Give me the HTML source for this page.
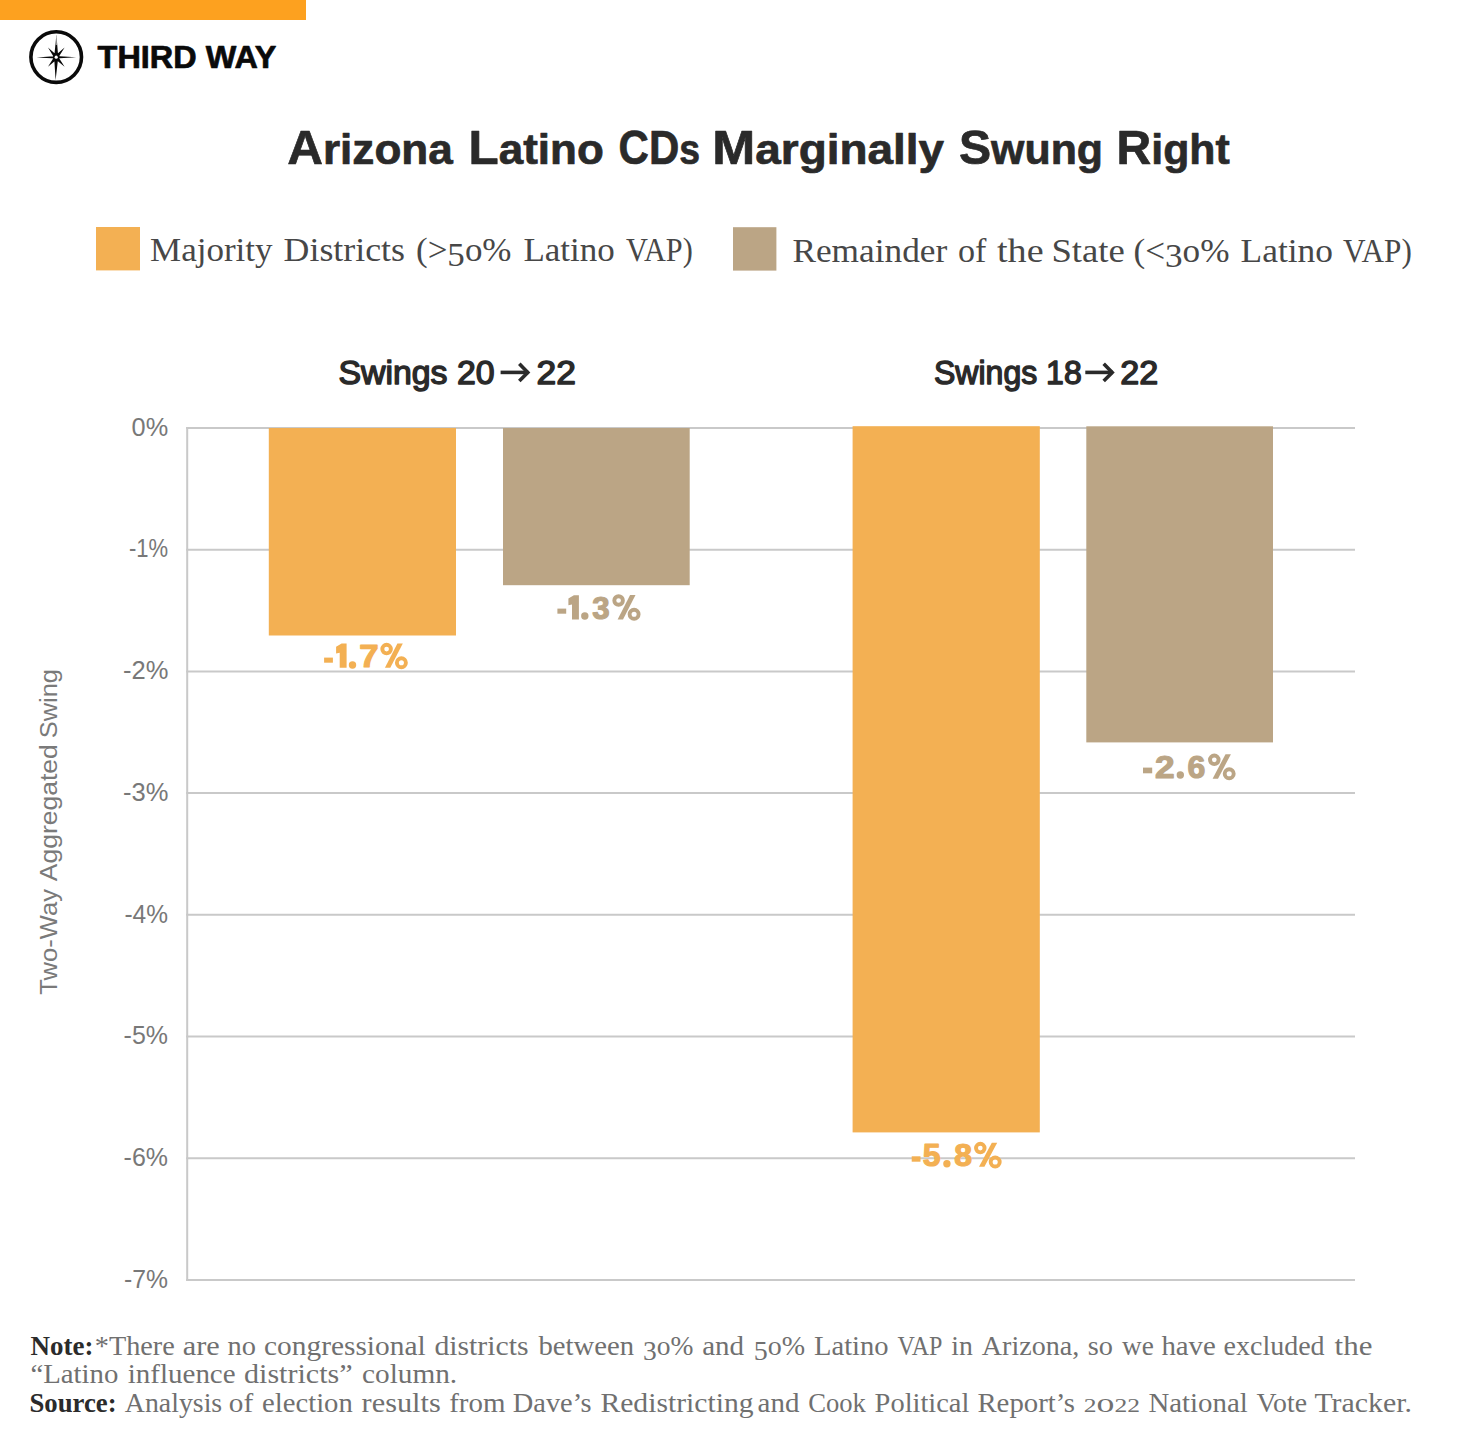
<!DOCTYPE html>
<html><head><meta charset="utf-8">
<style>
html,body{margin:0;padding:0;background:#fff;width:1480px;height:1448px;overflow:hidden}
svg{display:block}
.sans{font-family:"Liberation Sans",sans-serif}
.serif{font-family:"Liberation Serif",serif}
</style></head>
<body>
<svg width="1480" height="1448" viewBox="0 0 1480 1448">
<rect x="0" y="0" width="1480" height="1448" fill="#fff"/>
<rect id="topbar" x="0" y="0" width="306" height="20" fill="#FDA11F"/>
<g id="logo"><circle cx="56.2" cy="57.1" r="25.3" fill="none" stroke="#0a0a0a" stroke-width="3.6"/>
<path fill="#0a0a0a" d="M56.40 34.40L58.29 57.92L54.09 57.88ZM55.60 80.20L54.12 56.65L58.31 56.76ZM36.50 57.40L56.79 56.00L56.81 58.60ZM76.10 57.30L55.60 58.60L55.60 56.00ZM48.00 47.40L58.20 56.42L54.97 59.10ZM64.60 47.40L57.41 59.12L54.21 56.40ZM48.00 66.70L55.01 55.47L58.18 58.23ZM64.60 66.70L54.23 58.25L57.37 55.45Z"/>
<circle cx="56.2" cy="57.2" r="3.2" fill="#0a0a0a"/><circle cx="56.2" cy="57.2" r="1.6" fill="#fff"/><path d="M56.15 36.5L56.3 45" stroke="#fff" stroke-width="0.7"/></g>
<text id="third" class="sans" x="97.60" y="68.10" font-size="31.40" fill="#0a0a0a" font-weight="700" textLength="178.90" lengthAdjust="spacingAndGlyphs" stroke="#0a0a0a" stroke-width="0.70" stroke-linejoin="round" >THIRD WAY</text>
<text id="tw0" class="sans" x="287.20" y="164.40" font-size="43.00" fill="#2a2a2a" font-weight="700" textLength="165.60" lengthAdjust="spacingAndGlyphs" stroke="#2a2a2a" stroke-width="0.70" stroke-linejoin="round" ><tspan font-size="48.30">A</tspan>rizona</text>
<text id="tw1" class="sans" x="468.60" y="164.40" font-size="43.00" fill="#2a2a2a" font-weight="700" textLength="135.20" lengthAdjust="spacingAndGlyphs" stroke="#2a2a2a" stroke-width="0.70" stroke-linejoin="round" ><tspan font-size="48.30">L</tspan>atino</text>
<text id="tw2" class="sans" x="618.60" y="164.40" font-size="43.00" fill="#2a2a2a" font-weight="700" textLength="81.40" lengthAdjust="spacingAndGlyphs" stroke="#2a2a2a" stroke-width="0.70" stroke-linejoin="round" ><tspan font-size="48.30">C</tspan><tspan font-size="48.30">D</tspan>s</text>
<text id="tw3" class="sans" x="712.20" y="164.40" font-size="43.00" fill="#2a2a2a" font-weight="700" textLength="232.00" lengthAdjust="spacingAndGlyphs" stroke="#2a2a2a" stroke-width="0.70" stroke-linejoin="round" ><tspan font-size="48.30">M</tspan>arginally</text>
<text id="tw4" class="sans" x="959.00" y="164.40" font-size="43.00" fill="#2a2a2a" font-weight="700" textLength="144.00" lengthAdjust="spacingAndGlyphs" stroke="#2a2a2a" stroke-width="0.70" stroke-linejoin="round" ><tspan font-size="48.30">S</tspan>wung</text>
<text id="tw5" class="sans" x="1116.60" y="164.40" font-size="43.00" fill="#2a2a2a" font-weight="700" textLength="113.20" lengthAdjust="spacingAndGlyphs" stroke="#2a2a2a" stroke-width="0.70" stroke-linejoin="round" ><tspan font-size="48.30">R</tspan>ight</text>
<rect x="96" y="227" width="44" height="43.4" fill="#F3B053"/>
<text id="leg1_0" class="serif" x="150.00" y="260.80" font-size="34.00" fill="#474747" textLength="122.60" lengthAdjust="spacingAndGlyphs" >Majority</text>
<text id="leg1_1" class="serif" x="283.60" y="260.80" font-size="34.00" fill="#474747" textLength="121.40" lengthAdjust="spacingAndGlyphs" >Districts</text>
<text id="leg1_2" class="serif" x="416.00" y="260.80" font-size="34.00" fill="#474747" textLength="95.50" lengthAdjust="spacingAndGlyphs" ><tspan font-size="34.00" dy="-0.00">(</tspan><tspan font-size="34.00" dy="0.00">&gt;</tspan><tspan font-size="34.00" dy="5.00">5</tspan><tspan dy="-5.00">o</tspan><tspan font-size="34.00" dy="0.00">%</tspan></text>
<text id="leg1_3" class="serif" x="523.40" y="260.80" font-size="34.00" fill="#474747" textLength="91.40" lengthAdjust="spacingAndGlyphs" >Latino</text>
<text id="leg1_4" class="serif" x="626.00" y="260.80" font-size="34.00" fill="#474747" textLength="66.80" lengthAdjust="spacingAndGlyphs" >VAP)</text>
<rect x="733" y="227.2" width="43.4" height="43.4" fill="#BBA585"/>
<text id="leg2_0" class="serif" x="792.40" y="261.60" font-size="34.00" fill="#474747" textLength="154.80" lengthAdjust="spacingAndGlyphs" >Remainder</text>
<text id="leg2_1" class="serif" x="958.00" y="261.60" font-size="34.00" fill="#474747" textLength="28.40" lengthAdjust="spacingAndGlyphs" >of</text>
<text id="leg2_2" class="serif" x="997.00" y="261.60" font-size="34.00" fill="#474747" textLength="46.60" lengthAdjust="spacingAndGlyphs" >the</text>
<text id="leg2_3" class="serif" x="1051.40" y="261.60" font-size="34.00" fill="#474747" textLength="73.40" lengthAdjust="spacingAndGlyphs" >State</text>
<text id="leg2_4" class="serif" x="1133.50" y="261.60" font-size="34.00" fill="#474747" textLength="96.00" lengthAdjust="spacingAndGlyphs" ><tspan font-size="34.00" dy="-0.00">(</tspan><tspan font-size="34.00" dy="0.00">&lt;</tspan><tspan font-size="34.00" dy="5.00">3</tspan><tspan dy="-5.00">o</tspan><tspan font-size="34.00" dy="0.00">%</tspan></text>
<text id="leg2_5" class="serif" x="1240.60" y="261.60" font-size="34.00" fill="#474747" textLength="92.40" lengthAdjust="spacingAndGlyphs" >Latino</text>
<text id="leg2_6" class="serif" x="1343.00" y="261.60" font-size="34.00" fill="#474747" textLength="68.80" lengthAdjust="spacingAndGlyphs" >VAP)</text>
<text id="h1a" class="sans" x="338.40" y="384.30" font-size="33.00" fill="#2a2a2a" textLength="156.20" lengthAdjust="spacingAndGlyphs" stroke="#2a2a2a" stroke-width="1.40" stroke-linejoin="round" >Swings 20</text>
<text id="h1b" class="sans" x="536.60" y="384.30" font-size="33.00" fill="#2a2a2a" textLength="39.40" lengthAdjust="spacingAndGlyphs" stroke="#2a2a2a" stroke-width="1.40" stroke-linejoin="round" >22</text>
<text id="h2a" class="sans" x="934.00" y="384.30" font-size="33.00" fill="#2a2a2a" textLength="147.70" lengthAdjust="spacingAndGlyphs" stroke="#2a2a2a" stroke-width="1.40" stroke-linejoin="round" >Swings 18</text>
<text id="h2b" class="sans" x="1120.20" y="384.30" font-size="33.00" fill="#2a2a2a" textLength="38.00" lengthAdjust="spacingAndGlyphs" stroke="#2a2a2a" stroke-width="1.40" stroke-linejoin="round" >22</text>
<g class="arrow" fill="none" stroke="#2a2a2a" stroke-width="3.6"><path d="M500.6 372.4H528.3"/><path d="M519.3 363.8L527.8 372.4L519.3 381.0" stroke-linejoin="miter"/></g>
<g class="arrow" fill="none" stroke="#2a2a2a" stroke-width="3.6"><path d="M1085.3 372.4H1112.7"/><path d="M1103.7 363.8L1112.2 372.4L1103.7 381.0" stroke-linejoin="miter"/></g>
<g id="grid" stroke="#C9C9C9" stroke-width="2.00">
<line x1="186.2" y1="428.00" x2="1355" y2="428.00"/>
<line x1="186.2" y1="549.70" x2="1355" y2="549.70"/>
<line x1="186.2" y1="671.40" x2="1355" y2="671.40"/>
<line x1="186.2" y1="793.10" x2="1355" y2="793.10"/>
<line x1="186.2" y1="914.80" x2="1355" y2="914.80"/>
<line x1="186.2" y1="1036.50" x2="1355" y2="1036.50"/>
<line x1="186.2" y1="1158.20" x2="1355" y2="1158.20"/>
<line x1="186.2" y1="1279.90" x2="1355" y2="1279.90"/>
<line x1="187.20" y1="427.00" x2="187.20" y2="1280.90"/>
</g>
<text id="y0" class="sans" x="131.60" y="435.70" font-size="26.00" fill="#787878" textLength="36.60" lengthAdjust="spacingAndGlyphs" >0%</text>
<text id="y1" class="sans" x="129.00" y="557.41" font-size="26.00" fill="#787878" textLength="39.20" lengthAdjust="spacingAndGlyphs" >-1%</text>
<text id="y2" class="sans" x="123.00" y="679.12" font-size="26.00" fill="#787878" textLength="45.40" lengthAdjust="spacingAndGlyphs" >-2%</text>
<text id="y3" class="sans" x="123.00" y="800.83" font-size="26.00" fill="#787878" textLength="45.40" lengthAdjust="spacingAndGlyphs" >-3%</text>
<text id="y4" class="sans" x="124.40" y="922.54" font-size="26.00" fill="#787878" textLength="43.60" lengthAdjust="spacingAndGlyphs" >-4%</text>
<text id="y5" class="sans" x="123.60" y="1044.25" font-size="26.00" fill="#787878" textLength="44.40" lengthAdjust="spacingAndGlyphs" >-5%</text>
<text id="y6" class="sans" x="123.60" y="1165.96" font-size="26.00" fill="#787878" textLength="44.40" lengthAdjust="spacingAndGlyphs" >-6%</text>
<text id="y7" class="sans" x="124.00" y="1287.67" font-size="26.00" fill="#787878" textLength="44.00" lengthAdjust="spacingAndGlyphs" >-7%</text>
<text id="ytitle_0" class="sans" x="-0.70" y="0.00" font-size="24.80" fill="#7a7a7a" textLength="105.70" lengthAdjust="spacingAndGlyphs" transform="translate(57,994) rotate(-90)" >Two-Way</text>
<text id="ytitle_1" class="sans" x="112.80" y="0.00" font-size="24.80" fill="#7a7a7a" textLength="137.00" lengthAdjust="spacingAndGlyphs" transform="translate(57,994) rotate(-90)" >Aggregated</text>
<text id="ytitle_2" class="sans" x="255.80" y="0.00" font-size="24.80" fill="#7a7a7a" textLength="69.10" lengthAdjust="spacingAndGlyphs" transform="translate(57,994) rotate(-90)" >Swing</text>
<rect x="268.80" y="428.00" width="187.20" height="207.50" fill="#F3B053"/>
<rect x="503.00" y="428.00" width="186.70" height="157.20" fill="#BBA585"/>
<rect x="852.60" y="426.20" width="187.20" height="706.20" fill="#F3B053"/>
<rect x="1086.30" y="426.30" width="186.70" height="316.10" fill="#BBA585"/>
<g id="l17" fill="#F3B053"><rect x="324.10" y="657.60" width="8.80" height="5.10"/><circle cx="352.50" cy="665.00" r="3.70"/><circle cx="386.60" cy="649.10" r="4.30" fill="none" stroke="#F3B053" stroke-width="3.90"/><circle cx="401.40" cy="662.70" r="4.50" fill="none" stroke="#F3B053" stroke-width="3.90"/><path d="M384.90 667.70L390.30 667.70L402.80 643.40L397.40 643.40Z"/></g>
<path id="l17_d0" fill="#F3B053" d="M336.10 646.80L341.60 643.50L346.60 643.50L346.60 667.70L339.70 667.70L339.70 652.80L336.10 653.50Z"/>
<text id="l17_d1" class="sans" x="359.20" y="666.80" font-size="32.20" font-weight="700" fill="#F3B053" stroke="#F3B053" stroke-width="1.20" stroke-linejoin="round" textLength="19.40" lengthAdjust="spacingAndGlyphs">7</text>
<g id="l13" fill="#BBA585"><rect x="557.40" y="608.60" width="8.80" height="5.10"/><circle cx="584.80" cy="616.00" r="3.70"/><circle cx="618.60" cy="600.50" r="4.30" fill="none" stroke="#BBA585" stroke-width="3.90"/><circle cx="634.10" cy="614.30" r="4.50" fill="none" stroke="#BBA585" stroke-width="3.90"/><path d="M617.60 619.40L623.00 619.40L635.50 595.10L630.10 595.10Z"/></g>
<path id="l13_d0" fill="#BBA585" d="M568.40 598.50L573.90 595.20L578.90 595.20L578.90 619.40L572.00 619.40L572.00 604.50L568.40 605.20Z"/>
<text id="l13_d1" class="sans" x="592.20" y="618.50" font-size="32.20" font-weight="700" fill="#BBA585" stroke="#BBA585" stroke-width="1.20" stroke-linejoin="round" textLength="17.40" lengthAdjust="spacingAndGlyphs">3</text>
<g id="l58" fill="#F3B053"><rect x="911.70" y="1156.30" width="8.80" height="5.40"/><circle cx="946.90" cy="1163.70" r="3.70"/><circle cx="980.30" cy="1148.10" r="4.30" fill="none" stroke="#F3B053" stroke-width="3.90"/><circle cx="995.20" cy="1162.00" r="4.50" fill="none" stroke="#F3B053" stroke-width="3.90"/><path d="M979.00 1166.70L984.40 1166.70L997.20 1142.70L991.80 1142.70Z"/></g>
<text id="l58_d0" class="sans" x="922.80" y="1165.80" font-size="32.20" font-weight="700" fill="#F3B053" stroke="#F3B053" stroke-width="1.20" stroke-linejoin="round" textLength="17.80" lengthAdjust="spacingAndGlyphs">5</text>
<text id="l58_d1" class="sans" x="954.20" y="1165.80" font-size="32.20" font-weight="700" fill="#F3B053" stroke="#F3B053" stroke-width="1.20" stroke-linejoin="round" textLength="17.80" lengthAdjust="spacingAndGlyphs">8</text>
<g id="l26" fill="#BBA585"><rect x="1143.00" y="767.60" width="9.20" height="5.70"/><circle cx="1180.30" cy="775.00" r="3.70"/><circle cx="1214.30" cy="759.80" r="4.30" fill="none" stroke="#BBA585" stroke-width="3.90"/><circle cx="1229.20" cy="773.70" r="4.50" fill="none" stroke="#BBA585" stroke-width="3.90"/><path d="M1212.60 778.70L1218.00 778.70L1230.90 754.20L1225.50 754.20Z"/></g>
<text id="l26_d0" class="sans" x="1155.00" y="777.80" font-size="32.20" font-weight="700" fill="#BBA585" stroke="#BBA585" stroke-width="1.20" stroke-linejoin="round" textLength="19.60" lengthAdjust="spacingAndGlyphs">2</text>
<text id="l26_d1" class="sans" x="1187.60" y="777.80" font-size="32.20" font-weight="700" fill="#BBA585" stroke="#BBA585" stroke-width="1.20" stroke-linejoin="round" textLength="17.80" lengthAdjust="spacingAndGlyphs">6</text>
<text id="n1a" class="serif" x="30.60" y="1355.30" font-size="27.50" fill="#2b2b2b" font-weight="700" textLength="62.90" lengthAdjust="spacingAndGlyphs" >Note:</text>
<text id="n1b_0" class="serif" x="94.80" y="1355.30" font-size="27.50" fill="#707070" textLength="80.00" lengthAdjust="spacingAndGlyphs" >*There</text>
<text id="n1b_1" class="serif" x="182.80" y="1355.30" font-size="27.50" fill="#707070" textLength="37.00" lengthAdjust="spacingAndGlyphs" >are</text>
<text id="n1b_2" class="serif" x="227.60" y="1355.30" font-size="27.50" fill="#707070" textLength="28.40" lengthAdjust="spacingAndGlyphs" >no</text>
<text id="n1b_3" class="serif" x="264.00" y="1355.30" font-size="27.50" fill="#707070" textLength="161.60" lengthAdjust="spacingAndGlyphs" >congressional</text>
<text id="n1b_4" class="serif" x="434.40" y="1355.30" font-size="27.50" fill="#707070" textLength="94.20" lengthAdjust="spacingAndGlyphs" >districts</text>
<text id="n1b_5" class="serif" x="538.40" y="1355.30" font-size="27.50" fill="#707070" textLength="95.60" lengthAdjust="spacingAndGlyphs" >between</text>
<text id="n1b_6" class="serif" x="643.00" y="1355.30" font-size="27.50" fill="#707070" textLength="50.40" lengthAdjust="spacingAndGlyphs" ><tspan font-size="27.50" dy="4.30">3</tspan><tspan dy="-4.30">o</tspan><tspan font-size="27.50" dy="0.00">%</tspan></text>
<text id="n1b_7" class="serif" x="702.20" y="1355.30" font-size="27.50" fill="#707070" textLength="41.80" lengthAdjust="spacingAndGlyphs" >and</text>
<text id="n1b_8" class="serif" x="753.80" y="1355.30" font-size="27.50" fill="#707070" textLength="51.40" lengthAdjust="spacingAndGlyphs" ><tspan font-size="27.50" dy="4.30">5</tspan><tspan dy="-4.30">o</tspan><tspan font-size="27.50" dy="0.00">%</tspan></text>
<text id="n1b_9" class="serif" x="814.00" y="1355.30" font-size="27.50" fill="#707070" textLength="74.60" lengthAdjust="spacingAndGlyphs" >Latino</text>
<text id="n1b_10" class="serif" x="897.40" y="1355.30" font-size="27.50" fill="#707070" textLength="45.00" lengthAdjust="spacingAndGlyphs" >VAP</text>
<text id="n1b_11" class="serif" x="951.20" y="1355.30" font-size="27.50" fill="#707070" textLength="21.60" lengthAdjust="spacingAndGlyphs" >in</text>
<text id="n1b_12" class="serif" x="981.80" y="1355.30" font-size="27.50" fill="#707070" textLength="97.40" lengthAdjust="spacingAndGlyphs" >Arizona,</text>
<text id="n1b_13" class="serif" x="1087.80" y="1355.30" font-size="27.50" fill="#707070" textLength="25.20" lengthAdjust="spacingAndGlyphs" >so</text>
<text id="n1b_14" class="serif" x="1122.00" y="1355.30" font-size="27.50" fill="#707070" textLength="31.80" lengthAdjust="spacingAndGlyphs" >we</text>
<text id="n1b_15" class="serif" x="1161.40" y="1355.30" font-size="27.50" fill="#707070" textLength="54.40" lengthAdjust="spacingAndGlyphs" >have</text>
<text id="n1b_16" class="serif" x="1223.60" y="1355.30" font-size="27.50" fill="#707070" textLength="101.00" lengthAdjust="spacingAndGlyphs" >excluded</text>
<text id="n1b_17" class="serif" x="1334.60" y="1355.30" font-size="27.50" fill="#707070" textLength="37.80" lengthAdjust="spacingAndGlyphs" >the</text>
<text id="n2_0" class="serif" x="30.40" y="1383.30" font-size="27.50" fill="#707070" textLength="88.00" lengthAdjust="spacingAndGlyphs" >“Latino</text>
<text id="n2_1" class="serif" x="127.80" y="1383.30" font-size="27.50" fill="#707070" textLength="107.80" lengthAdjust="spacingAndGlyphs" >influence</text>
<text id="n2_2" class="serif" x="244.00" y="1383.30" font-size="27.50" fill="#707070" textLength="108.60" lengthAdjust="spacingAndGlyphs" >districts”</text>
<text id="n2_3" class="serif" x="362.00" y="1383.30" font-size="27.50" fill="#707070" textLength="95.20" lengthAdjust="spacingAndGlyphs" >column.</text>
<text id="n3a" class="serif" x="29.40" y="1412.10" font-size="27.50" fill="#2b2b2b" font-weight="700" textLength="87.20" lengthAdjust="spacingAndGlyphs" >Source:</text>
<text id="n3b_0" class="serif" x="124.80" y="1412.10" font-size="27.50" fill="#707070" textLength="97.40" lengthAdjust="spacingAndGlyphs" >Analysis</text>
<text id="n3b_1" class="serif" x="228.80" y="1412.10" font-size="27.50" fill="#707070" textLength="24.40" lengthAdjust="spacingAndGlyphs" >of</text>
<text id="n3b_2" class="serif" x="262.00" y="1412.10" font-size="27.50" fill="#707070" textLength="90.80" lengthAdjust="spacingAndGlyphs" >election</text>
<text id="n3b_3" class="serif" x="361.60" y="1412.10" font-size="27.50" fill="#707070" textLength="79.20" lengthAdjust="spacingAndGlyphs" >results</text>
<text id="n3b_4" class="serif" x="449.20" y="1412.10" font-size="27.50" fill="#707070" textLength="56.20" lengthAdjust="spacingAndGlyphs" >from</text>
<text id="n3b_5" class="serif" x="512.80" y="1412.10" font-size="27.50" fill="#707070" textLength="78.80" lengthAdjust="spacingAndGlyphs" >Dave’s</text>
<text id="n3b_6" class="serif" x="600.40" y="1412.10" font-size="27.50" fill="#707070" textLength="153.20" lengthAdjust="spacingAndGlyphs" >Redistricting</text>
<text id="n3b_7" class="serif" x="757.60" y="1412.10" font-size="27.50" fill="#707070" textLength="41.80" lengthAdjust="spacingAndGlyphs" >and</text>
<text id="n3b_8" class="serif" x="808.20" y="1412.10" font-size="27.50" fill="#707070" textLength="57.60" lengthAdjust="spacingAndGlyphs" >Cook</text>
<text id="n3b_9" class="serif" x="874.60" y="1412.10" font-size="27.50" fill="#707070" textLength="94.80" lengthAdjust="spacingAndGlyphs" >Political</text>
<text id="n3b_10" class="serif" x="977.40" y="1412.10" font-size="27.50" fill="#707070" textLength="97.60" lengthAdjust="spacingAndGlyphs" >Report’s</text>
<text id="n3b_11" class="serif" x="1083.80" y="1412.10" font-size="27.50" fill="#707070" textLength="56.20" lengthAdjust="spacingAndGlyphs" ><tspan font-size="19.70" dy="-0.00">2</tspan><tspan dy="0.00">o</tspan><tspan font-size="19.70" dy="0.00">2</tspan><tspan font-size="19.70" dy="0.00">2</tspan></text>
<text id="n3b_12" class="serif" x="1148.40" y="1412.10" font-size="27.50" fill="#707070" textLength="99.40" lengthAdjust="spacingAndGlyphs" >National</text>
<text id="n3b_13" class="serif" x="1256.60" y="1412.10" font-size="27.50" fill="#707070" textLength="50.40" lengthAdjust="spacingAndGlyphs" >Vote</text>
<text id="n3b_14" class="serif" x="1314.40" y="1412.10" font-size="27.50" fill="#707070" textLength="97.60" lengthAdjust="spacingAndGlyphs" >Tracker.</text>
</svg>
</body></html>
